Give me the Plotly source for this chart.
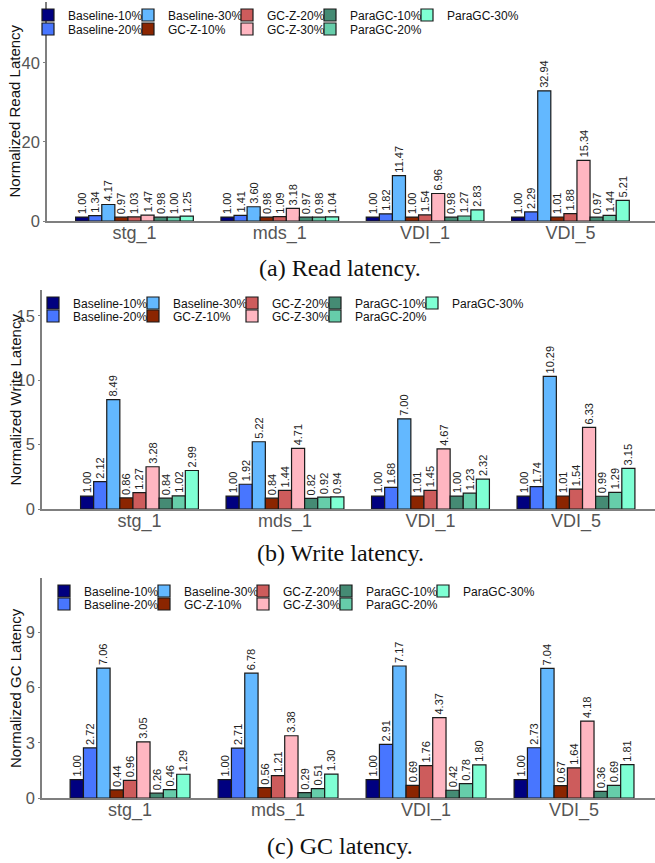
import plotly.graph_objects as go

W, H = 655, 863

categories = ["stg_1", "mds_1", "VDI_1", "VDI_5"]
series_names = ["Baseline-10%", "Baseline-20%", "Baseline-30%",
                "GC-Z-10%", "GC-Z-20%", "GC-Z-30%",
                "ParaGC-10%", "ParaGC-20%", "ParaGC-30%"]
series_colors = ["#000080", "#4876FF", "#63B8FF",
                 "#8B2500", "#CD5C5C", "#FFB6C1",
                 "#458B74", "#66CDAA", "#7FFFD4"]

# values per series (order of categories: stg_1, mds_1, VDI_1, VDI_5)
read_baseline_10 = [1.00, 1.00, 1.00, 1.00]
read_baseline_20 = [1.34, 1.41, 1.82, 2.29]
read_baseline_30 = [4.17, 3.60, 11.47, 32.94]
read_gcz_10 = [0.97, 0.98, 1.00, 1.01]
read_gcz_20 = [1.03, 1.09, 1.54, 1.88]
read_gcz_30 = [1.47, 3.18, 6.96, 15.34]
read_paragc_10 = [0.98, 0.97, 0.98, 0.97]
read_paragc_20 = [1.00, 0.98, 1.27, 1.44]
read_paragc_30 = [1.25, 1.04, 2.83, 5.21]

write_baseline_10 = [1.00, 1.00, 1.00, 1.00]
write_baseline_20 = [2.12, 1.92, 1.68, 1.74]
write_baseline_30 = [8.49, 5.22, 7.00, 10.29]
write_gcz_10 = [0.86, 0.84, 1.01, 1.01]
write_gcz_20 = [1.27, 1.44, 1.45, 1.54]
write_gcz_30 = [3.28, 4.71, 4.67, 6.33]
write_paragc_10 = [0.84, 0.82, 1.00, 0.99]
write_paragc_20 = [1.02, 0.92, 1.23, 1.29]
write_paragc_30 = [2.99, 0.94, 2.32, 3.15]

gc_baseline_10 = [1.00, 1.00, 1.00, 1.00]
gc_baseline_20 = [2.72, 2.71, 2.91, 2.73]
gc_baseline_30 = [7.06, 6.78, 7.17, 7.04]
gc_gcz_10 = [0.44, 0.56, 0.69, 0.67]
gc_gcz_20 = [0.96, 1.21, 1.76, 1.64]
gc_gcz_30 = [3.05, 3.38, 4.37, 4.18]
gc_paragc_10 = [0.26, 0.29, 0.42, 0.36]
gc_paragc_20 = [0.46, 0.51, 0.78, 0.69]
gc_paragc_30 = [1.29, 1.30, 1.80, 1.81]

read_series = [read_baseline_10, read_baseline_20, read_baseline_30,
               read_gcz_10, read_gcz_20, read_gcz_30,
               read_paragc_10, read_paragc_20, read_paragc_30]
write_series = [write_baseline_10, write_baseline_20, write_baseline_30,
                write_gcz_10, write_gcz_20, write_gcz_30,
                write_paragc_10, write_paragc_20, write_paragc_30]
gc_series = [gc_baseline_10, gc_baseline_20, gc_baseline_30,
             gc_gcz_10, gc_gcz_20, gc_gcz_30,
             gc_paragc_10, gc_paragc_20, gc_paragc_30]

y_titles = ["Normalized Read Latency", "Normalized Write Latency", "Normalized GC Latency"]
captions = ["(a) Read latency.", "(b) Write latency.", "(c) GC latency."]
y_ticks = [[0, 20, 40], [0, 5, 10, 15], [0, 3, 6, 9]]

# layout geometry (pixels)
panels = [
    dict(data=read_series, xl=47, top=2, bot=221, yr=[0, 55.4], xr=[-0.602, 3.582],
         leg_x=[68, 168, 267, 350, 447], leg_y=[15, 29], cap_y=268, title_x=14),
    dict(data=write_series, xl=42, top=290, bot=509, yr=[0, 17.0], xr=[-0.670, 3.543],
         leg_x=[73, 173, 272, 355, 452], leg_y=[303, 316], cap_y=553, title_x=15),
    dict(data=gc_series, xl=42, top=578, bot=798, yr=[0, 11.95], xr=[-0.595, 3.547],
         leg_x=[84, 184, 283, 366, 463], leg_y=[591, 604], cap_y=846, title_x=15),
]

FONT = "Liberation Sans, Arial, sans-serif"
fig = go.Figure()
layout = dict(
    width=W, height=H, margin=dict(l=0, r=0, t=0, b=0, autoexpand=False),
    paper_bgcolor="white", plot_bgcolor="white",
    barmode="group", bargap=0.19, bargroupgap=0.0,
    font=dict(family=FONT, color="#222"),
    annotations=[],
)

leg_idx = 0
for p_i, p in enumerate(panels):
    ax = "" if p_i == 0 else str(p_i + 1)
    for s_i, (name, color, vals) in enumerate(zip(series_names, series_colors, p["data"])):
        leg_idx += 1
        leg_name = "legend" if leg_idx == 1 else f"legend{leg_idx}"
        fig.add_trace(go.Bar(
            x=categories, y=vals, name=name,
            marker=dict(color=color, line=dict(color="#1a1a1a", width=1.2)),
            texttemplate="%{y:.2f}", textposition="outside", textangle=-90,
            textfont=dict(size=11, color="#222", family=FONT),
            constraintext="none", cliponaxis=False,
            xaxis="x" + ax, yaxis="y" + ax, legend=leg_name,
            showlegend=True,
        ))
        col, row = s_i // 2, s_i % 2
        layout[leg_name] = dict(
            x=(p["leg_x"][col] - 40) / W, xanchor="left",
            y=1 - p["leg_y"][row] / H, yanchor="middle",
            orientation="v", bgcolor="rgba(0,0,0,0)", borderwidth=0,
            font=dict(size=12, color="#111", family=FONT),
        )
    layout["xaxis" + ax] = dict(
        domain=[p["xl"] / W, 1], range=p["xr"], anchor="y" + ax,
        showline=True, linecolor="#7f7f7f", linewidth=2,
        ticks="", showgrid=False, zeroline=False,
        tickfont=dict(size=18, color="#555", family=FONT),
        ticklabelstandoff=-6,
        automargin=False,
    )
    layout["yaxis" + ax] = dict(
        domain=[1 - p["bot"] / H, 1 - p["top"] / H], range=p["yr"], anchor="x" + ax,
        showline=True, linecolor="#7f7f7f", linewidth=1.5,
        tickvals=y_ticks[p_i], ticks="outside", ticklen=2, tickcolor="#7f7f7f",
        showgrid=False, zeroline=False,
        tickfont=dict(size=16.5, color="#555", family=FONT),
        automargin=False,
    )
    layout["annotations"].append(dict(
        text=y_titles[p_i], textangle=-90, showarrow=False,
        xref="paper", yref="paper",
        x=p["title_x"] / W, y=1 - (p["top"] + p["bot"]) / 2 / H,
        xanchor="center", yanchor="middle",
        font=dict(size=15, color="#111", family=FONT),
    ))
    layout["annotations"].append(dict(
        text=captions[p_i], showarrow=False,
        xref="paper", yref="paper",
        x=340 / W, y=1 - p["cap_y"] / H,
        xanchor="center", yanchor="middle",
        font=dict(size=24, color="#111", family="Liberation Serif, Times New Roman, serif"),
    ))

fig.update_layout(**layout)
fig.write_html(
    "out.html",
    config={"displayModeBar": False},
    post_script="document.body.style.margin='0px';document.body.style.padding='0px';",
)
